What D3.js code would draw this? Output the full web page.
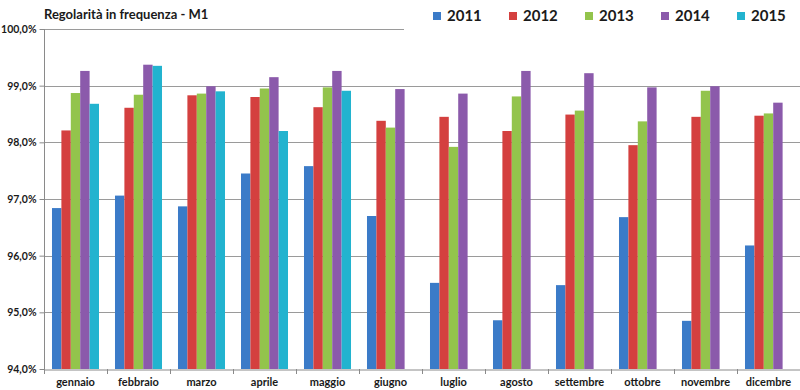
<!DOCTYPE html>
<html lang="it">
<head>
    <meta charset="UTF-8">
    <title>Regolarità in frequenza - M1</title>
    <script src="https://cdnjs.cloudflare.com/ajax/libs/d3/7.8.5/d3.min.js"></script>
    <style>
        body { margin: 0; background: #fff; }
        text { font-family: Lato, "Open Sans", sans-serif; font-weight: bold; fill: #1a1a1a; }
    </style>
</head>
<body>
<svg id="chart" width="800" height="390"></svg>
<script>
    // months on the x axis
    var months = ["gennaio", "febbraio", "marzo", "aprile", "maggio", "giugno",
        "luglio", "agosto", "settembre", "ottobre", "novembre", "dicembre"];
    var years = ["2011", "2012", "2013", "2014", "2015"];

    // values (percent)
    var v2011 = [96.84, 97.06, 96.87, 97.45, 97.58, 96.70, 95.52, 94.86, 95.48, 96.68, 94.85, 96.18];
    var v2012 = [98.21, 98.61, 98.83, 98.80, 98.62, 98.38, 98.45, 98.20, 98.49, 97.95, 98.45, 98.47];
    var v2013 = [98.87, 98.84, 98.86, 98.95, 98.97, 98.26, 97.92, 98.81, 98.56, 98.37, 98.91, 98.51];
    var v2014 = [99.26, 99.37, 98.99, 99.15, 99.26, 98.94, 98.86, 99.26, 99.22, 98.97, 98.99, 98.70];
    var v2015 = [98.68, 99.35, 98.90, 98.20, 98.91, null, null, null, null, null, null, null];

    var yTicks = [94, 95, 96, 97, 98, 99, 100];

    var series = [v2011, v2012, v2013, v2014, v2015];
    var colors = ["#3b7bc8", "#d4403f", "#93c44c", "#8b5aab", "#22b3cf"];

    var svg = d3.select("#chart");
    var plotLeft = 44, plotRight = 800, plotTop = 29, plotBottom = 369;

    var x = d3.scaleBand().domain(months).range([plotLeft, plotRight]).paddingInner(0).paddingOuter(0);
    var xInner = d3.scaleBand().domain(years).range([0, x.bandwidth()]).paddingOuter(0.85).paddingInner(0);
    var y = d3.scaleLinear().domain([94, 100]).range([plotBottom, plotTop]);

    // gridlines (top one stops where the legend begins)
    svg.append("g").selectAll("line")
        .data(yTicks.slice(1))
        .enter().append("line")
        .attr("x1", plotLeft)
        .attr("x2", function (d) { return d === 100 ? 404 : plotRight; })
        .attr("y1", function (d) { return Math.round(y(d)) + 0.5; })
        .attr("y2", function (d) { return Math.round(y(d)) + 0.5; })
        .attr("stroke", "#9a9a9a")
        .attr("stroke-width", 1);

    // bars
    var groups = svg.append("g").selectAll("g")
        .data(series)
        .enter().append("g")
        .attr("fill", function (d, i) { return colors[i]; });

    groups.selectAll("rect")
        .data(function (d, i) {
            return d.map(function (v, j) { return { year: years[i], month: months[j], value: v }; })
                .filter(function (o) { return o.value !== null; });
        })
        .enter().append("rect")
        .attr("x", function (d) { return x(d.month) + xInner(d.year); })
        .attr("width", xInner.bandwidth())
        .attr("y", function (d) { return y(d.value); })
        .attr("height", function (d) { return y(94) - y(d.value); });

    // y axis
    var yAxis = d3.axisLeft(y)
        .tickValues(yTicks)
        .tickSize(5)
        .tickPadding(3)
        .tickFormat(function (d) { return d3.format(".1f")(d).replace(".", ",") + "%"; });

    var gy = svg.append("g")
        .attr("transform", "translate(" + (plotLeft + 0.5) + ",0)")
        .call(yAxis);
    gy.selectAll("path, line").attr("stroke", "#8a8a8a");
    gy.select(".domain").attr("d", "M0," + y(100) + "V" + y(94));
    gy.selectAll("text").style("font-size", "10.5px").style("font-family", "Lato, sans-serif").attr("fill", "#1a1a1a");

    // x axis
    var xAxis = d3.axisBottom(x).tickSize(0).tickPadding(9);
    var gx = svg.append("g")
        .attr("transform", "translate(0," + (plotBottom + 0.5) + ")")
        .call(xAxis);
    gx.select(".domain").attr("stroke", "#8a8a8a");
    gx.selectAll("text").style("font-size", "11px").style("font-family", "Lato, sans-serif").attr("fill", "#1a1a1a");

    // tick marks at month boundaries
    svg.append("g").selectAll("line")
        .data(months)
        .enter().append("line")
        .attr("x1", function (d) { return Math.round(x(d)) + 0.5; })
        .attr("x2", function (d) { return Math.round(x(d)) + 0.5; })
        .attr("y1", plotBottom)
        .attr("y2", plotBottom + 5)
        .attr("stroke", "#8a8a8a");

    // title
    svg.append("text")
        .attr("x", 44)
        .attr("y", 19)
        .style("font-size", "13px")
        .text("Regolarità in frequenza - M1");

    // legend
    var legend = svg.append("g").selectAll("g")
        .data(years)
        .enter().append("g")
        .attr("transform", function (d, i) { return "translate(" + (433 + i * 76) + ",10)"; });

    legend.append("rect")
        .attr("width", 8)
        .attr("height", 8)
        .attr("y", 2)
        .attr("fill", function (d, i) { return colors[i]; });

    legend.append("text")
        .attr("x", 14)
        .attr("y", 11)
        .style("font-size", "15px")
        .text(function (d) { return d; });
</script>
</body>
</html>
